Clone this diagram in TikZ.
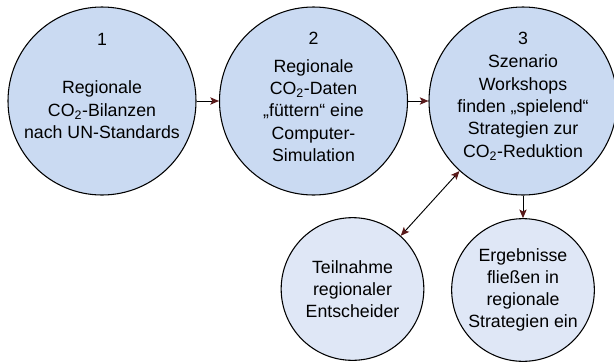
\documentclass[tikz,border=0pt]{standalone}
\usepackage{fontspec}
\setmainfont{Liberation Sans}
\usetikzlibrary{arrows.meta}
\definecolor{topfill}{HTML}{CADAF2}
\definecolor{botfill}{HTML}{DFE7F6}
\definecolor{tipcol}{HTML}{5A1A1A}
\tikzset{
  bigcirc/.style={circle, draw=black, line width=0.8pt, fill=topfill, minimum size=141pt, inner sep=0pt},
  smallcirc/.style={circle, draw=black, line width=0.8pt, fill=botfill, minimum size=107pt, inner sep=0pt, align=center, font=\fontsize{13.3pt}{16.4pt}\selectfont},
  txt/.style={align=center, inner sep=0pt, font=\fontsize{13.3pt}{16.8pt}\selectfont},
  conn/.style={line width=0.7pt, draw=black, -{Stealth[length=6.5pt, width=5.5pt, inset=1.5pt, color=tipcol]}},
  bothconn/.style={line width=0.7pt, draw=black, {Stealth[length=6.5pt, width=5.5pt, inset=1.5pt, color=tipcol]}-{Stealth[length=6.5pt, width=5.5pt, inset=1.5pt, color=tipcol]}}
}
\begin{document}
\begin{tikzpicture}[x=0.75pt, y=-0.75pt]
\useasboundingbox (0,0) rectangle (614,361);
\node[bigcirc] (c1) at (102,101) {};
\node[bigcirc] (c2) at (313.5,101) {};
\node[bigcirc] (c3) at (523,101) {};
\node[smallcirc] (c4) at (352.5,289) {Teilnahme\\regionaler\\Entscheider};
\node[smallcirc] (c5) at (523,290) {Ergebnisse\\fließen in\\regionale\\Strategien ein};
\node[txt] (n1) at (102,39) {1};
\node[txt] (t1) at (102,110) {Regionale\\CO\textsubscript{2}-Bilanzen\\nach UN-Standards};
\node[txt] (n2) at (313.5,38) {2};
\node[txt] (t2) at (313.5,110.5) {Regionale\\CO\textsubscript{2}-Daten\\„füttern“ eine\\Computer-\\Simulation};
\node[txt] (n3) at (523,38) {3};
\node[txt] (t3) at (523,107.5) {Szenario\\Workshops\\finden „spielend“\\Strategien zur\\CO\textsubscript{2}-Reduktion};
\draw[conn] (c1) -- (c2);
\draw[conn] (c2) -- (c3);
\draw[conn] (c3) -- (c5);
\draw[bothconn] (c4) -- (c3);
\end{tikzpicture}
\end{document}
